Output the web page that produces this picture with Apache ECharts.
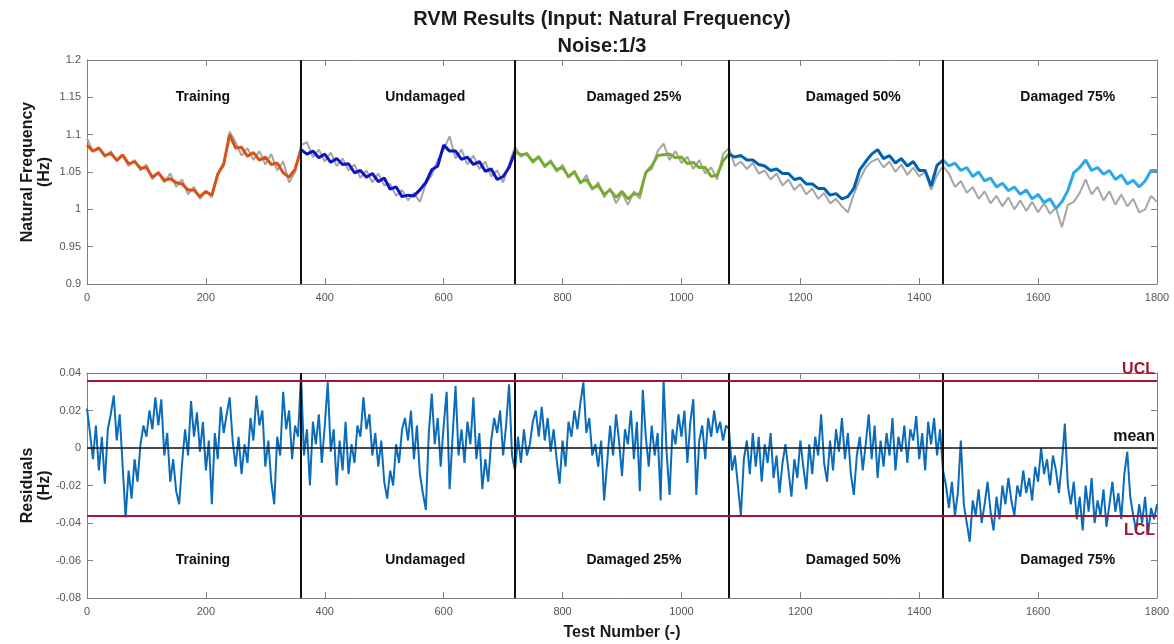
<!DOCTYPE html>
<html><head><meta charset="utf-8">
<script src="https://cdn.jsdelivr.net/npm/echarts@6/dist/echarts.min.js"></script>
<style>html,body{margin:0;padding:0;background:#fff}#c{width:1174px;height:644px}</style>
</head><body><div id="c"></div>
<script>
// ---------------- data ----------------
const STEP_TOP = 10;   // test-number spacing of the sampled frequency curves
const STEP_RES = 5;    // test-number spacing of the sampled residuals
const regions = ['Training', 'Undamaged', 'Damaged 25%', 'Damaged 50%', 'Damaged 75%'];
const regionBounds = [0, 360, 720, 1080, 1440, 1800];
const regionLabelX = [195, 569, 920, 1289, 1650];
const regionColors = ['#d95319', '#0c14c4', '#77ac30', '#0062b0', '#2aa8e8'];
const UCL = 0.036, LCL = -0.036, MEAN = 0;
const topLabelY = 1.15, bottomLabelY = -0.06;

// RVM predicted natural frequency (Hz), t = 0,10,...,1800
const predicted = [
 1.086,1.078,1.082,1.072,1.075,1.066,1.073,1.061,1.064,1.055,1.056,1.043,1.049,1.039,1.041,1.036,1.034,1.026,1.026,1.017,1.024,1.019,1.047,1.061,1.100,1.082,1.083,1.071,1.076,1.066,1.070,1.060,1.062,1.049,1.043,1.054,1.080,
 1.074,1.078,1.069,1.074,1.063,1.068,1.060,1.061,1.049,1.052,1.043,1.048,1.037,1.042,1.027,1.030,1.017,1.019,1.018,1.026,1.036,1.053,1.058,1.086,1.078,1.078,1.067,1.070,1.060,1.064,1.051,1.054,1.040,1.044,1.056,1.077,
 1.073,1.074,1.064,1.070,1.058,1.064,1.053,1.056,1.044,1.050,1.036,1.040,1.028,1.032,1.020,1.026,1.016,1.024,1.014,1.021,1.020,1.049,1.058,1.072,1.073,1.074,1.069,1.070,1.061,1.063,1.056,1.056,1.044,1.046,1.065,1.074,
 1.070,1.072,1.066,1.066,1.060,1.058,1.052,1.054,1.048,1.048,1.040,1.042,1.034,1.034,1.028,1.028,1.019,1.021,1.014,1.017,1.028,1.053,1.064,1.074,1.080,1.068,1.072,1.062,1.068,1.058,1.064,1.052,1.052,1.031,1.059,1.066,
 1.058,1.062,1.052,1.056,1.044,1.050,1.038,1.042,1.030,1.035,1.025,1.030,1.020,1.026,1.014,1.020,1.009,1.014,1.001,1.010,1.025,1.049,1.056,1.066,1.052,1.056,1.047,1.052,1.040,1.046,1.034,1.039,1.030,1.038,1.052,1.052
];

// measured (noisy) natural frequency (Hz), t = 0,10,...,1800
const measured = [
 1.095,1.078,1.083,1.070,1.078,1.064,1.072,1.058,1.066,1.052,1.060,1.040,1.050,1.036,1.048,1.030,1.040,1.020,1.030,1.014,1.024,1.016,1.048,1.058,1.104,1.090,1.072,1.082,1.066,1.078,1.060,1.074,1.052,1.064,1.036,1.050,1.086,
 1.090,1.070,1.080,1.064,1.076,1.058,1.068,1.052,1.060,1.042,1.052,1.036,1.048,1.032,1.034,1.018,1.026,1.012,1.022,1.010,1.034,1.046,1.066,1.080,1.098,1.068,1.080,1.060,1.072,1.054,1.064,1.044,1.052,1.036,1.060,1.084,
 1.070,1.076,1.062,1.072,1.056,1.066,1.050,1.060,1.042,1.052,1.034,1.046,1.026,1.036,1.016,1.028,1.008,1.022,1.006,1.024,1.014,1.050,1.054,1.078,1.088,1.066,1.078,1.062,1.070,1.054,1.066,1.048,1.056,1.040,1.074,1.082,
 1.058,1.064,1.054,1.062,1.048,1.052,1.040,1.048,1.032,1.040,1.026,1.034,1.020,1.028,1.014,1.022,1.008,1.014,1.004,0.996,1.020,1.040,1.056,1.064,1.068,1.056,1.064,1.050,1.060,1.046,1.056,1.044,1.050,1.026,1.046,1.058,
 1.048,1.030,1.038,1.022,1.030,1.014,1.024,1.008,1.018,1.004,1.016,1.000,1.012,0.998,1.010,0.996,1.008,0.994,1.002,0.976,1.006,1.010,1.022,1.040,1.020,1.030,1.012,1.024,1.006,1.020,1.004,1.014,0.996,1.000,1.018,1.010
];

// residuals (Hz), t = 0,5,...,1800
const residuals = [
 0.021,0.008,-0.006,0.012,-0.012,0.006,-0.019,0.010,0.018,0.028,0.004,0.018,-0.010,-0.037,-0.012,-0.027,-0.006,-0.018,0.002,0.012,
 0.006,0.020,0.010,0.027,0.012,0.026,-0.004,0.008,-0.018,-0.006,-0.023,-0.030,-0.008,0.010,-0.004,0.025,0.006,0.019,-0.002,0.014,
 -0.012,0.004,-0.030,0.008,-0.006,0.022,0.008,0.018,0.027,0.004,-0.010,0.006,-0.014,0.002,-0.008,0.016,0.004,0.028,0.012,0.020,
 -0.010,0.004,-0.018,-0.030,0.006,-0.004,0.030,0.010,0.020,-0.006,0.012,0.006,
 0.039,-0.004,0.010,-0.020,0.014,0.002,0.018,-0.008,0.012,0.035,-0.002,0.010,-0.020,0.004,-0.012,0.014,-0.014,0.002,-0.008,0.012,
 0.006,0.027,0.010,0.018,-0.004,0.008,-0.010,0.004,-0.018,-0.027,-0.012,-0.020,0.002,-0.008,0.010,0.016,0.004,0.020,-0.006,0.012,
 -0.014,-0.024,-0.033,0.008,0.029,0.002,0.016,-0.010,0.012,0.030,-0.022,0.006,0.033,-0.004,0.010,-0.008,0.014,0.002,0.027,-0.006,
 0.008,-0.022,-0.006,-0.018,0.004,0.016,0.008,0.020,-0.004,0.012,0.034,-0.004,
 -0.012,0.006,-0.008,0.010,-0.004,0.002,0.014,0.020,0.006,0.022,0.004,0.016,-0.002,0.010,-0.006,-0.019,0.004,-0.010,0.014,0.006,
 0.020,0.010,0.024,0.035,0.008,0.016,-0.004,0.002,-0.010,0.004,-0.028,-0.008,0.012,-0.004,0.018,0.004,-0.015,0.010,0.002,0.020,
 -0.006,0.014,-0.023,0.031,0.006,-0.010,0.012,-0.004,0.008,-0.028,0.036,-0.002,-0.025,0.010,0.002,0.018,0.006,0.020,-0.008,0.014,
 0.026,-0.025,0.004,0.012,-0.006,0.016,0.006,0.020,0.008,0.014,0.004,0.012,
 0.010,-0.012,-0.004,-0.020,-0.036,-0.006,0.004,-0.014,0.008,-0.010,0.006,-0.018,0.002,-0.008,0.008,-0.016,-0.004,-0.024,-0.008,0.002,
 -0.012,-0.026,-0.006,-0.016,0.004,-0.010,-0.022,0.002,-0.014,0.006,-0.004,0.018,-0.008,-0.018,0.004,-0.012,0.010,-0.002,0.016,-0.006,
 0.008,-0.014,-0.025,-0.004,0.006,-0.012,0.002,0.018,-0.006,0.012,-0.016,0.004,-0.010,0.008,-0.004,0.016,-0.012,0.006,-0.002,0.012,
 -0.008,0.010,0.004,0.017,-0.006,0.008,-0.012,0.014,0.002,0.016,-0.004,0.010,
 -0.012,-0.020,-0.032,-0.018,-0.036,-0.024,0.004,-0.030,-0.040,-0.050,-0.028,-0.036,-0.022,-0.040,-0.030,-0.018,-0.034,-0.044,-0.026,-0.038,
 -0.020,-0.030,-0.016,-0.028,-0.036,-0.020,-0.026,-0.012,-0.024,-0.016,-0.028,-0.010,-0.018,0.000,-0.014,-0.006,-0.020,-0.004,-0.012,-0.024,
 -0.008,0.013,-0.020,-0.030,-0.018,-0.038,-0.026,-0.044,-0.020,-0.034,-0.016,-0.040,-0.028,-0.036,-0.022,-0.042,-0.030,-0.018,-0.034,-0.024,
 -0.038,-0.014,-0.002,-0.026,-0.036,-0.044,-0.030,-0.040,-0.026,-0.046,-0.032,-0.038,-0.030
];

// ---------------- chart ----------------
const FONT = 'Liberation Sans, Arial, Helvetica, sans-serif';
const AXIS_COLOR = '#808080';
const toPairs = (arr, step) => arr.map((v, i) => [i * step, v]);
const fmt = v => String(+(+v).toFixed(4));

const baseX = (grid, pos, showLabel, extra) => Object.assign({
  type: 'value', gridIndex: grid, position: pos, min: 0, max: 1800, interval: 200,
  axisLine: { show: true, onZero: false, lineStyle: { color: AXIS_COLOR, width: 1 } },
  axisTick: { show: true, inside: true, length: 6, lineStyle: { color: AXIS_COLOR } },
  axisLabel: { show: showLabel, fontSize: 11, color: '#555', margin: 8, fontFamily: FONT, formatter: fmt },
  splitLine: { show: false }
}, extra || {});
const baseY = (grid, pos, showLabel, min, max, interval, extra) => Object.assign({
  type: 'value', gridIndex: grid, position: pos, min: min, max: max, interval: interval,
  axisLine: { show: true, onZero: false, lineStyle: { color: AXIS_COLOR, width: 1 } },
  axisTick: { show: true, inside: true, length: 6, lineStyle: { color: AXIS_COLOR } },
  axisLabel: { show: showLabel, fontSize: 11, color: '#555', margin: 6, fontFamily: FONT, formatter: fmt },
  splitLine: { show: false }
}, extra || {});

const nameStyle = { fontSize: 16, fontWeight: 'bold', color: '#1a1a1a', fontFamily: FONT, lineHeight: 17 };

const series = [];
series.push({
  type: 'line', xAxisIndex: 0, yAxisIndex: 0, data: toPairs(measured, STEP_TOP),
  showSymbol: false, symbol: 'none', lineStyle: { color: '#a6a6a6', width: 2 }, z: 2, silent: true,
  markLine: {
    silent: true, symbol: 'none', animation: false,
    lineStyle: { color: '#111', width: 2, type: 'solid' }, label: { show: false },
    data: regionBounds.slice(1, 5).map(b => ({ xAxis: b }))
  }
});
regions.forEach((r, i) => {
  const a = regionBounds[i] / STEP_TOP, b = regionBounds[i + 1] / STEP_TOP;
  const pts = [];
  for (let k = a; k <= b; k++) pts.push([k * STEP_TOP, predicted[k]]);
  series.push({
    type: 'line', name: r, xAxisIndex: 0, yAxisIndex: 0, data: pts,
    showSymbol: false, symbol: 'none', lineStyle: { color: regionColors[i], width: 3 }, z: 3, silent: true
  });
});
series.push({
  type: 'line', xAxisIndex: 2, yAxisIndex: 2, data: toPairs(residuals, STEP_RES),
  showSymbol: false, symbol: 'none', lineStyle: { color: '#0a6cba', width: 2 }, z: 2, silent: true,
  markLine: {
    silent: true, symbol: 'none', animation: false, precision: 3,
    data: [
      ...regionBounds.slice(1, 5).map(b => ({ xAxis: b, lineStyle: { color: '#111', width: 2, type: 'solid' }, label: { show: false } })),
      { yAxis: UCL, lineStyle: { color: '#a2142f', width: 2, type: 'solid' },
        label: { show: true, position: 'insideEndTop', formatter: 'UCL', color: '#a2142f', fontSize: 16, fontWeight: 'bold', fontFamily: FONT, distance: [2, 3] } },
      { yAxis: MEAN, lineStyle: { color: '#111', width: 1.5, type: 'solid' },
        label: { show: true, position: 'insideEndTop', formatter: 'mean', color: '#111', fontSize: 16, fontWeight: 'bold', fontFamily: FONT, distance: [2, 3] } },
      { yAxis: LCL, lineStyle: { color: '#a2142f', width: 2, type: 'solid' },
        label: { show: true, position: 'insideEndBottom', formatter: 'LCL', color: '#a2142f', fontSize: 16, fontWeight: 'bold', fontFamily: FONT, distance: [2, 7] } }
    ]
  }
});

const option = {
  animation: false,
  backgroundColor: '#fff',
  textStyle: { fontFamily: FONT },
  title: {
    text: 'RVM Results (Input: Natural Frequency)\nNoise:1/3',
    left: 597, top: 1, textAlign: 'center',
    textStyle: { fontSize: 20, fontWeight: 'bold', color: '#1a1a1a', lineHeight: 27, fontFamily: FONT }
  },
  grid: [
    { left: 87, right: 17, top: 60, height: 224 },
    { left: 87, right: 17, top: 373, height: 225 }
  ],
  xAxis: [
    baseX(0, 'bottom', true),
    baseX(0, 'top', false),
    baseX(1, 'bottom', true, { name: 'Test Number (-)', nameLocation: 'middle', nameGap: 26, nameTextStyle: nameStyle }),
    baseX(1, 'top', false)
  ],
  yAxis: [
    baseY(0, 'left', true, 0.9, 1.2, 0.05, { name: 'Natural Frequency\n(Hz)', nameLocation: 'middle', nameGap: 34, nameMoveOverlap: false, nameRotate: 90, nameTextStyle: nameStyle }),
    baseY(0, 'right', false, 0.9, 1.2, 0.05),
    baseY(1, 'left', true, -0.08, 0.04, 0.02, { name: 'Residuals\n(Hz)', nameLocation: 'middle', nameGap: 34, nameMoveOverlap: false, nameRotate: 90, nameTextStyle: nameStyle }),
    baseY(1, 'right', false, -0.08, 0.04, 0.02)
  ],
  series: series
};

const chart = echarts.init(document.getElementById('c'), null, { renderer: 'canvas' });
chart.setOption(option);

// region labels placed through the axes' own scales
const graphics = [];
regions.forEach((r, i) => {
  [[{ xAxisIndex: 0, yAxisIndex: 0 }, topLabelY], [{ xAxisIndex: 2, yAxisIndex: 2 }, bottomLabelY]].forEach(([finder, yv]) => {
    const p = chart.convertToPixel(finder, [regionLabelX[i], yv]);
    graphics.push({
      type: 'text', x: p[0], y: p[1], z: 10, silent: true,
      style: { text: r, fill: '#111', font: 'bold 14px ' + FONT, textAlign: 'center', textVerticalAlign: 'middle' }
    });
  });
});
chart.setOption({ graphic: graphics });
</script>
</body></html>
